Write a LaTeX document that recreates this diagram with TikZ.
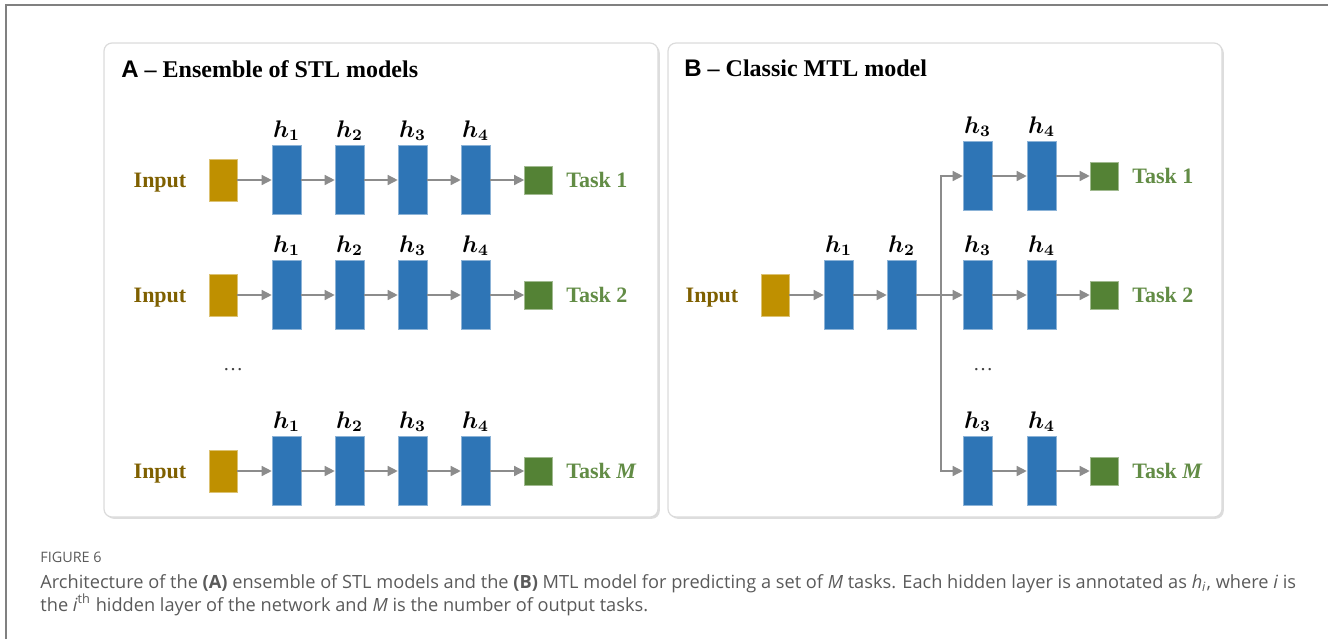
\documentclass[tikz,border=0pt]{standalone}
\usepackage{bm}
\usepackage{fontspec}
\setmainfont{Liberation Serif}
\setsansfont{Liberation Sans}
\newfontfamily\capfont{Open Sans}
\usetikzlibrary{positioning,arrows.meta,shadows}
\definecolor{inputgold}{HTML}{BF9000}
\definecolor{inputtext}{HTML}{7F6000}
\definecolor{layerblue}{HTML}{2E75B6}
\definecolor{taskgreen}{HTML}{548235}
\definecolor{arrowgrey}{HTML}{8C8C8C}
\definecolor{capgrey}{HTML}{5A5A5A}
\tikzset{
        panel/.style={draw=black!14, line width=0.6pt, rounded corners=4pt, fill=white,
          drop shadow={shadow xshift=0.9pt, shadow yshift=-0.9pt, opacity=0.22, fill=black!60}},
        inbox/.style={fill=inputgold, draw=inputgold!55!white, line width=0.3pt, inner sep=0pt, minimum width=14pt, minimum height=21pt},
        layer/.style={fill=layerblue, draw=layerblue!55!white, line width=0.3pt, inner sep=0pt, minimum width=14.5pt, minimum height=34.5pt},
        outbox/.style={fill=taskgreen, draw=taskgreen!55!white, line width=0.3pt, inner sep=0pt, minimum size=14pt},
        inlabel/.style={text=inputtext, inner sep=0pt, font=\bfseries\fontsize{11}{13}\selectfont},
        tasklabel/.style={text=taskgreen!92!white, anchor=west, inner sep=0pt, font=\bfseries\fontsize{11}{13}\selectfont},
        hlabel/.style={inner sep=1pt, font=\fontsize{11.5}{13}\selectfont},
        flow/.style={draw=arrowgrey, line width=0.7pt, -{Triangle[length=5pt,width=5pt]}},
        paneltitle/.style={anchor=base west, inner sep=0pt, font=\bfseries\fontsize{12}{14}\selectfont},
        skip/.style={text=black!75, font=\fontsize{10}{12}\selectfont},
        capfig/.style={anchor=base west, inner sep=0pt, text=capgrey, font=\capfont\fontsize{7.2}{9}\selectfont},
        captext/.style={anchor=base west, inner sep=0pt, text=capgrey, font=\capfont\fontsize{9.1}{11}\selectfont}
          }

\begin{document}
\begin{tikzpicture}[x=0.5pt, y=-0.5pt]
        \useasboundingbox (0,0) rectangle (1328,639);
        \draw[black!50, line width=1pt] (6,639) -- (6,5) -- (1328,5);

        % panel A: one network per task
        \draw[panel] (104,43) rectangle (658,517);
        \node[paneltitle] (atitle) at (121,77) {{\sffamily A} -- Ensemble of STL models};
        \foreach \r/\y/\t in {1/180/1, 2/295/2, M/471/{\textit{M}}} {
          \node[inlabel] (ain\r) at (160,\y+3) {Input};
          \node[inbox] (aib\r) at (223,\y) {};
          \foreach \i/\x in {1/286.5, 2/349.5, 3/412.5, 4/475.5} {
            \node[layer] (ah\r\i) at (\x,\y) {};
            \node[hlabel, above=1pt of ah\r\i] (ahl\r\i) {$\bm{h}_{\bm{\i}}$};
          }
          \node[outbox] (aout\r) at (538.5,\y) {};
          \node[tasklabel] (atask\r) at (566,\y) {Task \t};
          \draw[flow] (aib\r) -- (ah\r1);
          \draw[flow] (ah\r1) -- (ah\r2);
          \draw[flow] (ah\r2) -- (ah\r3);
          \draw[flow] (ah\r3) -- (ah\r4);
          \draw[flow] (ah\r4) -- (aout\r);
        }
        \node[skip] (adots) at (233,370) {\dots};

        % panel B: shared layers, then one head per task
        \draw[panel] (668,43) rectangle (1222,517);
        \node[paneltitle] (btitle) at (684,76) {{\sffamily B} -- Classic MTL model};
        \node[inlabel] (bin) at (712,298) {Input};
        \node[inbox] (bib) at (775,295) {};
        \node[layer] (bh1) at (838.5,295) {};
        \node[hlabel, above=1pt of bh1] (bhl1) {$\bm{h}_{\bm{1}}$};
        \node[layer] (bh2) at (901.5,295) {};
        \node[hlabel, above=1pt of bh2] (bhl2) {$\bm{h}_{\bm{2}}$};
        \coordinate (split) at (941,295);
        \foreach \r/\y/\t in {1/176/1, 2/295/2, M/471/{\textit{M}}} {
          \node[layer] (bh\r3) at (977.5,\y) {};
          \node[hlabel, above=1pt of bh\r3] (bhl\r3) {$\bm{h}_{\bm{3}}$};
          \node[layer] (bh\r4) at (1041.5,\y) {};
          \node[hlabel, above=1pt of bh\r4] (bhl\r4) {$\bm{h}_{\bm{4}}$};
          \node[outbox] (bout\r) at (1104,\y) {};
          \node[tasklabel] (btask\r) at (1132,\y) {Task \t};
          \draw[flow] (bh\r3) -- (bh\r4);
          \draw[flow] (bh\r4) -- (bout\r);
        }
        \draw[flow] (bib) -- (bh1);
        \draw[flow] (bh1) -- (bh2);
        \draw[flow] (bh2) -- (bh23);
        \draw[flow] (split) |- (bh13.west);
        \draw[flow] (split) |- (bhM3.west);
        \node[skip] (bdots) at (983,370) {\dots};

        % caption
        \node[capfig] (fig) at (40,562) {FIGURE 6};
        \node[captext] (cap1) at (40,588) {Architecture of the \textbf{(A)} ensemble of STL models and the \textbf{(B)} MTL model for predicting a set of \textit{M} tasks. Each hidden layer is annotated as \textit{h}\textsubscript{\textit{i}}, where \textit{i} is};
        \node[captext] (cap2) at (40,611) {the \textit{i}\textsuperscript{th} hidden layer of the network and \textit{M} is the number of output tasks.};
      \end{tikzpicture}
\end{document}
